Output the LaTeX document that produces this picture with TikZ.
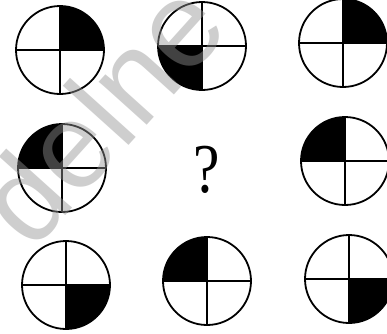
\documentclass[tikz,border=0pt]{standalone}
\usepackage{fontspec}
\setmainfont{Liberation Serif}
\newfontfamily\wmfont{Liberation Sans}
\begin{document}
\begin{tikzpicture}[x=1pt,y=-1pt,
  ring/.style={line width=1.8pt},
  crossline/.style={line width=1.3pt},
  pics/qc/.style={code={
    \fill[black] (0,0) -- (#1:44) arc[start angle=#1, end angle=#1+90, radius=44] -- cycle;
    \draw[crossline] (-44,0) -- (44,0);
    \draw[crossline] (0,-44) -- (0,44);
    \draw[ring] (0,0) circle[radius=44];
  }}]
\useasboundingbox (0,0) rectangle (387,333);
\fill[white] (0,0) rectangle (387,333);
% row 1
\pic at (60,50) {qc=-90};
\pic at (202,46) {qc=90};
\pic at (343,43) {qc=-90};
% row 2
\pic at (62,168) {qc=180};
\node[font=\fontsize{70}{70}\selectfont, xscale=0.85] (q) at (207,170) {?};
\pic at (345,161) {qc=180};
% row 3
\pic at (66,285) {qc=0};
\pic at (207,281) {qc=180};
\pic at (349,279) {qc=0};
% watermark
\node[rotate=48, text=gray!85, opacity=0.45, font=\wmfont\fontsize{122}{122}\selectfont] (wm) at (100,112) {delne};
\end{tikzpicture}
\end{document}
